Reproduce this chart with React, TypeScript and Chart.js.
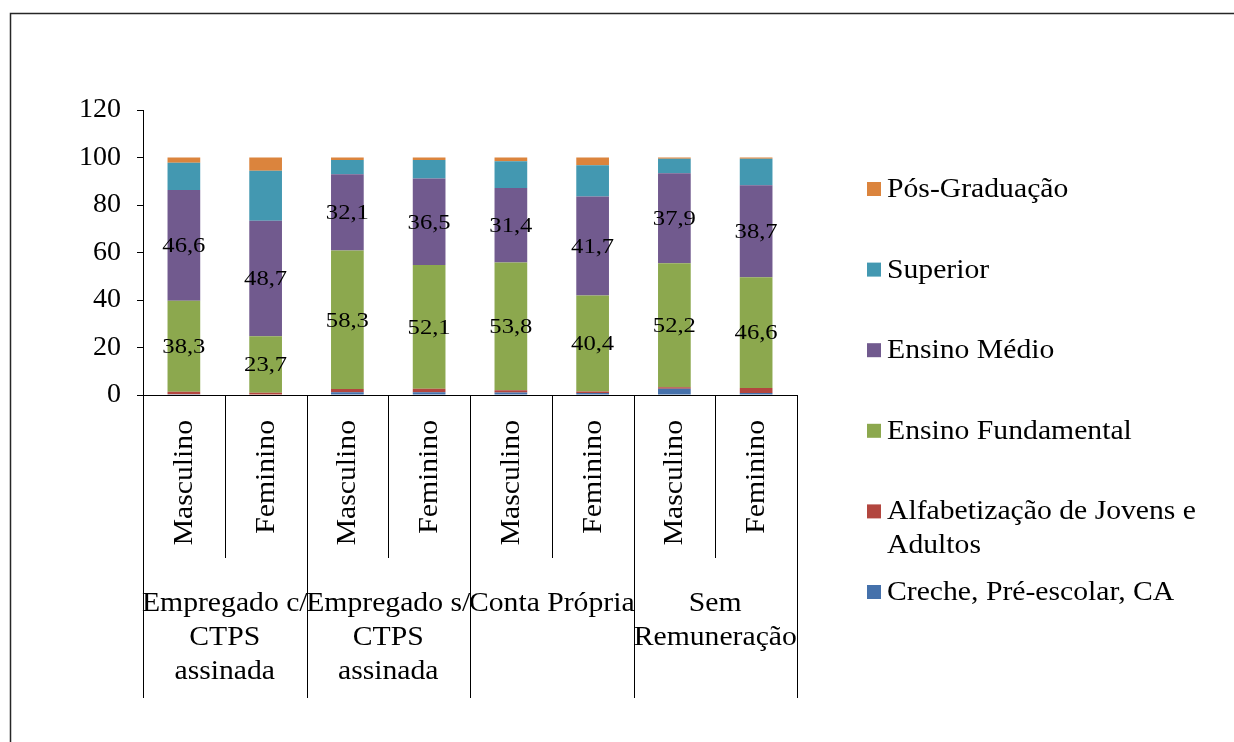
import React, { useEffect, useRef } from "react";
import { Chart, registerables } from "chart.js";

Chart.register(...registerables);

// Sub-categories (one bar each) and the employment groups beneath them
const categories = [
  "Masculino", "Feminino",
  "Masculino", "Feminino",
  "Masculino", "Feminino",
  "Masculino", "Feminino",
];
const groups: string[][] = [
  ["Empregado c/", "CTPS", "assinada"],
  ["Empregado s/", "CTPS", "assinada"],
  ["Conta Própria"],
  ["Sem", "Remuneração"],
];

// Education level shares (%) per bar, bottom to top of the stack
const creche = [0.3, 0.2, 1.2, 1.2, 1.1, 0.8, 2.6, 0.8];
const alfabetizacao = [1.1, 0.8, 1.3, 1.4, 0.9, 0.7, 0.7, 2.2];
const fundamental = [38.3, 23.7, 58.3, 52.1, 53.8, 40.4, 52.2, 46.6];
const medio = [46.6, 48.7, 32.1, 36.5, 31.4, 41.7, 37.9, 38.7];
const superior = [11.5, 21.0, 6.0, 7.7, 11.2, 13.1, 6.1, 11.2];
const posGraduacao = [2.2, 5.6, 1.1, 1.1, 1.6, 3.3, 0.5, 0.5];

const seriesNames = [
  "Creche, Pré-escolar, CA",
  "Alfabetização de Jovens e Adultos",
  "Ensino Fundamental",
  "Ensino Médio",
  "Superior",
  "Pós-Graduação",
];
const seriesColors = ["#4571AB", "#B2463F", "#8CA84E", "#715A8E", "#4398B1", "#DB843D"];
const legendLines: string[][] = [
  ["Creche, Pré-escolar, CA"],
  ["Alfabetização de Jovens e", "Adultos"],
  ["Ensino Fundamental"],
  ["Ensino Médio"],
  ["Superior"],
  ["Pós-Graduação"],
];
const labelledSeries = [2, 3];

const yTicks = { min: 0, max: 120, step: 20 };

const SERIF = "'Liberation Serif', 'Times New Roman', serif";
const SX = 1.12;

function drawText(
  ctx: CanvasRenderingContext2D,
  text: string,
  x: number,
  y: number,
  align: CanvasTextAlign,
  baseline: CanvasTextBaseline,
  rot = 0
) {
  ctx.save();
  ctx.translate(x, y);
  ctx.rotate(rot);
  ctx.scale(SX, 1);
  ctx.textAlign = align;
  ctx.textBaseline = baseline;
  ctx.fillText(text, 0, 0);
  ctx.restore();
}

const decorations = {
  id: "decorations",
  beforeDraw(chart: any) {
    const ctx: CanvasRenderingContext2D = chart.ctx;
    ctx.save();
    ctx.strokeStyle = "#262626";
    ctx.lineWidth = 1.5;
    ctx.beginPath();
    ctx.moveTo(10.5, chart.height);
    ctx.lineTo(10.5, 13.5);
    ctx.lineTo(chart.width, 13.5);
    ctx.stroke();
    ctx.restore();
  },
  afterDraw(chart: any) {
    const ctx: CanvasRenderingContext2D = chart.ctx;
    const area = chart.chartArea;
    const n = categories.length;
    const w = (area.right - area.left) / n;

    ctx.save();
    ctx.strokeStyle = "#000";
    ctx.lineWidth = 1;
    // category separators beneath the axis
    for (let i = 0; i <= n; i++) {
      const x = Math.round(area.left + i * w) + 0.5;
      const end = i % 2 === 0 ? 698 : 558;
      ctx.beginPath();
      ctx.moveTo(x, area.bottom);
      ctx.lineTo(x, end);
      ctx.stroke();
    }

    ctx.fillStyle = "#000";
    // rotated sub-category labels
    ctx.font = `26.5px ${SERIF}`;
    const xScale = chart.scales.x;
    categories.forEach((c, i) => {
      const cx = xScale.getPixelForTick(i);
      drawText(ctx, c, cx + 1, area.bottom + 25, "right", "middle", -Math.PI / 2);
    });

    // group labels
    groups.forEach((lines, g) => {
      const cx = area.left + (g * 2 + 1) * w;
      lines.forEach((line, k) => {
        drawText(ctx, line, cx, 611 + k * 34, "center", "alphabetic");
      });
    });

    // value labels on the two main segments
    ctx.font = `22px ${SERIF}`;
    labelledSeries.forEach((di) => {
      const meta = chart.getDatasetMeta(di);
      const values = chart.data.datasets[di].data as number[];
      meta.data.forEach((el: any, j: number) => {
        const cy = (el.y + el.base) / 2;
        const txt = values[j].toFixed(1).replace(".", ",");
        drawText(ctx, txt, el.x, cy + 1, "center", "middle");
      });
    });

    // legend, top item is the last series
    ctx.font = `26.5px ${SERIF}`;
    const order = [5, 4, 3, 2, 1, 0];
    order.forEach((si, row) => {
      const cy = 189 + row * 80.6;
      ctx.fillStyle = seriesColors[si];
      ctx.fillRect(867, cy - 7, 14, 14);
      ctx.fillStyle = "#000";
      legendLines[si].forEach((line, k) => {
        drawText(ctx, line, 887, cy + 1 + k * 34, "left", "middle");
      });
    });
    ctx.restore();
  },
};

export default function App() {
  const ref = useRef<HTMLCanvasElement | null>(null);

  useEffect(() => {
    if (!ref.current) return;
    const series = [creche, alfabetizacao, fundamental, medio, superior, posGraduacao];
    const chart = new Chart(ref.current, {
      type: "bar",
      data: {
        labels: categories,
        datasets: series.map((data, i) => ({
          label: seriesNames[i],
          data,
          backgroundColor: seriesColors[i],
          borderWidth: 0,
          barPercentage: 0.4,
          categoryPercentage: 1,
        })),
      },
      options: {
        animation: false,
        responsive: false,
        devicePixelRatio: 1,
        layout: { padding: { top: 110, right: 437, bottom: 0, left: 0 } },
        plugins: {
          legend: { display: false },
          tooltip: { enabled: false },
        },
        scales: {
          x: {
            stacked: true,
            grid: { display: false },
            ticks: { display: false },
            border: { display: true, color: "#000", width: 1 },
            afterFit: (scale: any) => {
              scale.height = 347;
            },
          },
          y: {
            stacked: true,
            min: yTicks.min,
            max: yTicks.max,
            ticks: {
              stepSize: yTicks.step,
              color: "#000",
              padding: 16,
              font: { family: SERIF, size: 28 },
            },
            grid: {
              drawOnChartArea: false,
              drawTicks: true,
              tickLength: 6,
              color: "#000",
            },
            border: { display: true, color: "#000", width: 1 },
            afterFit: (scale: any) => {
              scale.width = 143;
            },
          },
        },
      },
      plugins: [decorations],
    });
    return () => chart.destroy();
  }, []);

  return (
    <div style={{ position: "absolute", left: 0, top: 0, width: 1234, height: 742, background: "#fff" }}>
      <canvas ref={ref} width={1234} height={742} />
    </div>
  );
}
